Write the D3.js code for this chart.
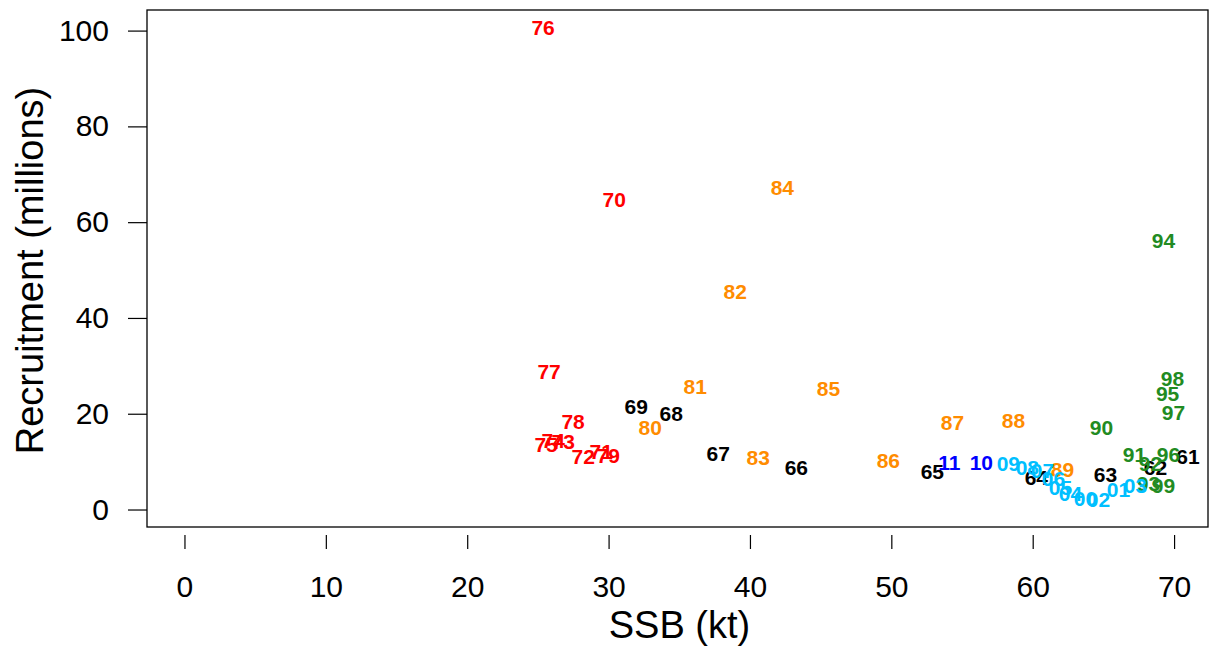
<!DOCTYPE html>
<html>
<head>
<meta charset="utf-8">
<script src="https://cdn.jsdelivr.net/npm/d3@7"></script>
<style>
  body { margin: 0; background: #fff; }
  svg { display: block; font-family: "Liberation Sans", Arial, sans-serif; }
</style>
</head>
<body>
<div id="chart"></div>
<script>
// year labels (two digits), SSB (kt), recruitment (millions), colour group
const years = ["61","62","63","64","65","66","67","68","69",
  "70","71","72","73","74","75","76","77","78","79",
  "80","81","82","83","84","85","86","87","88","89",
  "90","91","92","93","94","95","96","97","98","99",
  "00","01","02","03","04","05","06","07","08","09",
  "10","11"];
const ssb = [70.98, 68.68, 65.15, 60.26, 52.90, 43.28, 37.76, 34.43, 31.96,
  30.40, 29.48, 28.21, 26.79, 26.08, 25.58, 25.37, 25.79, 27.49, 29.97,
  32.94, 36.13, 38.96, 40.59, 42.29, 45.55, 49.79, 54.33, 58.64, 62.10,
  64.87, 67.20, 68.33, 68.19, 69.25, 69.54, 69.60, 69.96, 69.89, 69.25,
  63.73, 66.07, 64.65, 67.27, 62.67, 61.97, 61.47, 60.69, 59.62, 58.28,
  56.37, 54.10];
const recruit = [11.17, 8.87, 7.41, 6.78, 8.04, 8.87, 11.80, 20.15, 21.61,
  64.82, 12.21, 11.17, 14.30, 14.51, 13.67, 100.73, 28.91, 18.48, 11.38,
  17.22, 25.78, 45.62, 10.96, 67.33, 25.37, 10.33, 18.27, 18.68, 8.46,
  17.22, 11.59, 9.71, 5.53, 56.26, 24.32, 11.59, 20.35, 27.45, 5.11,
  2.40, 4.28, 2.19, 5.11, 3.44, 4.70, 6.58, 8.25, 8.87, 9.71,
  9.92, 9.92];
const decadeColours = { "6": "#000000", "7": "#ff0000", "8": "#ff8c00", "9": "#228b22", "0": "#00bfff", "1": "#0000ff" };

const xTicks = [0, 10, 20, 30, 40, 50, 60, 70];
const yTicks = [0, 20, 40, 60, 80, 100];

const W = 1211, H = 649;
const box = { left: 147, right: 1208, top: 10, bottom: 527 };

const svg = d3.select("#chart").append("svg")
  .attr("width", W).attr("height", H);

const x = d3.scaleLinear().domain([-2.65, 72.4]).range([box.left, box.right]);
const y = d3.scaleLinear().domain([-3.65, 104.3]).range([box.bottom, box.top]);

// frame
svg.append("rect")
  .attr("x", box.left).attr("y", box.top)
  .attr("width", box.right - box.left).attr("height", box.bottom - box.top)
  .attr("fill", "none").attr("stroke", "#000").attr("stroke-width", 1.3);

// x axis
const xAxis = svg.append("g").attr("transform", `translate(0,${box.bottom + 8})`)
  .call(d3.axisBottom(x).tickValues(xTicks).tickSize(14).tickPadding(27).tickSizeOuter(0));
xAxis.select(".domain").remove();
xAxis.selectAll("line").attr("stroke-width", 1.2);
xAxis.selectAll("text").attr("font-size", 30).attr("font-family", "Liberation Sans, Arial, sans-serif").attr("fill", "#000");

// y axis
const yAxis = svg.append("g").attr("transform", `translate(${box.left - 19},0)`)
  .call(d3.axisLeft(y).tickValues(yTicks).tickSize(0).tickPadding(0));
yAxis.select(".domain").remove();
yAxis.selectAll(".tick line").attr("x2", 19).attr("stroke-width", 1.2);
yAxis.selectAll("text").attr("x", -19).attr("font-size", 30).attr("font-family", "Liberation Sans, Arial, sans-serif").attr("fill", "#000");

// titles
svg.append("text")
  .attr("x", (box.left + box.right) / 2 + 2).attr("y", 638)
  .attr("text-anchor", "middle").attr("font-size", 38)
  .text("SSB (kt)");
svg.append("text")
  .attr("transform", `translate(43,${(box.top + box.bottom) / 2 + 2}) rotate(-90)`)
  .attr("text-anchor", "middle").attr("font-size", 38)
  .text("Recruitment (millions)");

// year labels
svg.append("g").selectAll("text")
  .data(years.map((yr, i) => ({ yr, s: ssb[i], r: recruit[i] })))
  .enter().append("text")
  .attr("x", d => x(d.s))
  .attr("y", d => y(d.r))
  .attr("dy", "0.36em")
  .attr("text-anchor", "middle")
  .attr("font-size", 21)
  .attr("font-weight", "bold")
  .attr("fill", d => decadeColours[d.yr[0]])
  .text(d => d.yr);
</script>
</body>
</html>
